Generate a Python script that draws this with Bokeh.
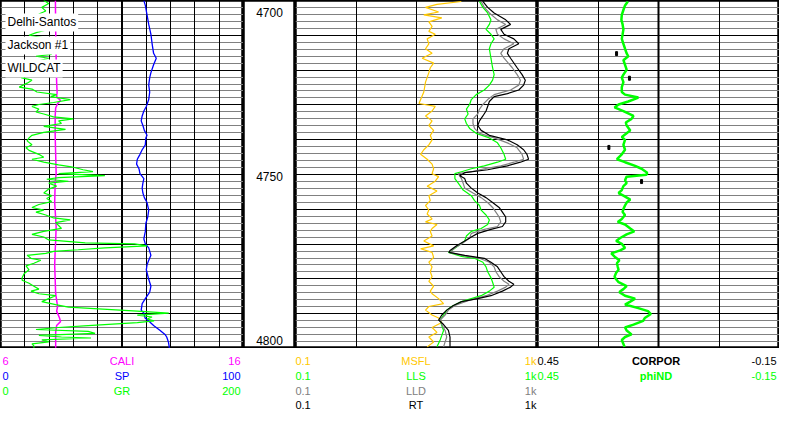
import numpy as np
from bokeh.plotting import figure
from bokeh.layouts import column, row
from bokeh.models import Range1d, Grid, FixedTicker, Label, Span
from bokeh.embed import file_html
from bokeh.resources import INLINE
from bokeh.core.properties import value

# ---------------- data (depth in ft) ----------------
gr_depth = [4696.2, 4697.1, 4698.3, 4699.4, 4700.3, 4701.5, 4702.7, 4703.8, 4705.0, 4705.9,
            4706.8, 4707.6, 4708.8, 4710.0, 4711.2, 4712.6, 4713.2, 4713.8, 4715.0, 4716.1,
            4717.3, 4718.2, 4719.1, 4719.7, 4720.5, 4721.4, 4722.6, 4723.2, 4724.1, 4724.9,
            4725.5, 4726.4, 4727.3, 4727.9, 4728.5, 4729.3, 4730.2, 4730.8, 4731.7, 4732.3,
            4732.9, 4733.7, 4734.6, 4735.5, 4736.4, 4737.3, 4738.1, 4739.0, 4740.2, 4741.1,
            4741.9, 4743.1, 4744.0, 4744.6, 4745.5, 4746.3, 4746.9, 4747.8, 4748.4, 4749.0,
            4749.6, 4750.2, 4750.7, 4751.3, 4751.9, 4752.8, 4753.7, 4754.9, 4755.7, 4756.6,
            4757.5, 4758.4, 4759.3, 4760.1, 4760.7, 4761.6, 4762.5, 4763.1, 4763.9, 4764.8,
            4765.7, 4766.6, 4767.5, 4768.3, 4769.2, 4770.1, 4770.4, 4771.0, 4771.6, 4772.2,
            4772.7, 4773.3, 4773.9, 4774.8, 4775.4, 4776.3, 4777.1, 4778.3, 4779.5, 4780.7,
            4781.5, 4782.4, 4783.3, 4784.2, 4784.8, 4785.6, 4786.2, 4787.1, 4788.0, 4788.9,
            4789.7, 4790.3, 4790.9, 4791.5, 4792.1, 4792.7, 4793.3, 4793.9, 4794.4, 4795.3,
            4795.9, 4796.5, 4797.1, 4797.7, 4798.3, 4798.8, 4799.1, 4799.7, 4800.3, 4800.9,
            4801.5, 4802.1]
gr = [35.6, 39.7, 34.0, 37.3, 31.6, 35.6, 30.0, 34.8, 39.7, 30.0,
      23.5, 35.6, 29.2, 38.1, 31.6, 42.1, 29.2, 39.7, 27.5, 33.2,
      23.5, 27.5, 23.5, 17.0, 25.9, 21.9, 15.4, 25.9, 30.0, 46.2,
      41.3, 57.5, 43.7, 31.6, 25.9, 31.6, 29.2, 35.6, 43.7, 59.9,
      47.8, 50.2, 35.6, 53.5, 35.6, 25.9, 23.5, 21.9, 25.9, 21.0,
      23.5, 31.6, 35.6, 25.9, 35.6, 47.8, 58.3, 68.0, 76.1, 47.8,
      85.9, 47.8, 38.1, 55.9, 39.7, 46.2, 39.7, 35.6, 42.1, 38.1,
      42.1, 31.6, 25.9, 35.6, 29.2, 37.3, 43.7, 57.5, 45.4, 47.8,
      50.2, 35.6, 25.9, 35.6, 39.7, 69.7, 110.2, 120.7, 85.9, 64.0,
      43.7, 37.3, 21.9, 25.1, 33.2, 27.5, 21.0, 23.5, 19.4, 17.8,
      17.8, 23.5, 27.5, 31.6, 25.1, 31.6, 45.4, 39.7, 34.0, 45.4,
      55.9, 84.2, 112.6, 138.5, 112.6, 124.7, 120.7, 126.4, 112.6, 72.1,
      47.8, 29.2, 72.1, 77.8, 31.6, 50.2, 74.5, 34.0, 39.7, 25.9,
      27.5, 27.5]

sp_depth = [4696.2, 4697.7, 4700.6, 4703.5, 4706.5, 4709.4, 4712.3, 4713.8, 4715.8, 4718.2,
            4719.7, 4722.0, 4724.1, 4726.4, 4728.5, 4729.9, 4731.4, 4732.9, 4734.3, 4735.8,
            4737.3, 4738.1, 4740.2, 4741.7, 4743.1, 4744.6, 4746.1, 4747.5, 4749.0, 4750.5,
            4751.9, 4753.4, 4754.9, 4756.3, 4757.8, 4760.1, 4762.2, 4764.2, 4766.6, 4768.9,
            4770.4, 4771.6, 4773.9, 4775.4, 4776.8, 4778.3, 4781.2, 4783.3, 4785.1, 4787.1,
            4788.6, 4790.6, 4791.5, 4793.0, 4793.9, 4795.3, 4796.8, 4798.0, 4798.8, 4800.3, 4802.1]
sp = [59.0, 59.6, 60.3, 61.0, 61.9, 62.4, 63.0, 64.1, 63.0, 61.9,
      61.4, 61.0, 61.4, 61.0, 60.0, 59.0, 58.3, 57.9, 58.6, 59.2,
      60.3, 59.8, 59.6, 58.3, 57.4, 56.3, 56.0, 57.0, 57.4, 59.0,
      58.6, 58.3, 58.6, 59.2, 60.3, 61.0, 60.6, 59.8, 59.6, 59.0,
      59.6, 61.0, 61.9, 61.0, 60.3, 60.0, 61.0, 61.9, 61.4, 59.6,
      58.3, 57.9, 59.0, 59.5, 61.0, 63.0, 65.7, 67.7, 68.4, 69.1, 69.5]

cali_depth = [4696.2, 4705.0, 4713.8, 4721.1, 4724.1, 4725.5, 4726.7, 4727.6, 4729.0, 4731.4,
              4737.3, 4743.1, 4749.0, 4751.9, 4757.8, 4765.1, 4769.5, 4772.4, 4776.8, 4781.2,
              4785.6, 4789.5, 4790.9, 4793.0, 4794.1, 4795.3, 4797.4, 4802.1]
cali = [8.26, 8.27, 8.29, 8.31, 8.33, 8.31, 8.47, 8.35, 8.27, 8.25,
        8.25, 8.27, 8.29, 8.25, 8.23, 8.29, 8.27, 8.25, 8.23, 8.25,
        8.27, 8.35, 8.31, 8.43, 8.47, 8.31, 8.27, 8.27]

msfl_depth = [4696.5, 4697.4, 4698.3, 4699.7, 4700.6, 4701.5, 4702.7, 4704.1, 4705.6, 4706.5,
              4707.9, 4709.4, 4710.9, 4712.3, 4713.8, 4715.3, 4716.7, 4718.2, 4721.1, 4724.1,
              4726.4, 4727.6, 4728.5, 4729.9, 4731.4, 4732.9, 4734.3, 4735.8, 4737.3, 4738.7,
              4740.2, 4741.7, 4743.1, 4744.6, 4746.1, 4747.5, 4749.0, 4749.9, 4751.3, 4752.8,
              4754.3, 4755.7, 4757.2, 4758.7, 4760.1, 4761.3, 4762.8, 4763.7, 4764.5, 4765.7,
              4766.6, 4768.0, 4769.5, 4771.0, 4771.9, 4773.0, 4774.5, 4776.0, 4777.4, 4778.9,
              4780.4, 4781.8, 4783.3, 4784.8, 4785.6, 4787.1, 4788.6, 4789.5, 4790.6, 4792.1,
              4793.0, 4794.4, 4795.9, 4797.4, 4798.8, 4800.3, 4801.8]
msfl = [55, 21.8, 14.1, 23.2, 13.2, 26.2, 16.0, 18.1, 16.0, 20.4,
        15.0, 16.0, 14.1, 18.1, 12.4, 19.2, 16.9, 16.0, 14.1, 13.2,
        11.7, 11.0, 20.4, 18.1, 14.1, 18.1, 16.0, 19.2, 16.9, 18.1,
        16.0, 13.2, 11.7, 15.0, 18.1, 19.2, 18.1, 23.2, 20.4, 15.0,
        21.8, 16.0, 16.9, 14.1, 16.0, 15.0, 18.1, 14.1, 21.8, 18.1,
        16.9, 18.1, 13.2, 19.2, 11.7, 18.1, 19.2, 16.0, 18.1, 16.9,
        18.1, 16.0, 19.2, 16.9, 18.1, 23.2, 28.0, 16.0, 14.1, 18.1,
        23.2, 26.2, 18.1, 21.8, 16.0, 19.2, 15.0]

lls_depth = [4696.5, 4698.3, 4700.0, 4702.1, 4703.5, 4705.0, 4706.5, 4707.9, 4709.4, 4710.9,
             4713.8, 4716.7, 4718.8, 4720.5, 4722.0, 4723.5, 4724.9, 4726.4, 4727.9, 4729.3,
             4730.8, 4732.3, 4733.7, 4735.2, 4736.7, 4738.1, 4739.6, 4741.1, 4743.1, 4744.6,
             4745.5, 4746.6, 4747.5, 4748.4, 4749.0, 4750.5, 4751.9, 4754.0, 4755.7, 4757.2,
             4758.7, 4760.1, 4761.6, 4763.1, 4764.5, 4765.7, 4766.6, 4768.0, 4769.5, 4771.0,
             4772.4, 4773.0, 4774.2, 4774.8, 4776.0, 4777.4, 4778.9, 4780.7, 4782.1, 4783.6,
             4784.8, 4786.2, 4787.1, 4788.0, 4789.5, 4790.6, 4792.1, 4793.6, 4795.3, 4796.8,
             4798.3, 4799.7, 4801.8]
lls = [110, 125, 150, 170, 160, 141, 170, 192, 170, 160,
       170, 181, 192, 181, 160, 132, 97, 80.5, 75.5, 66.8,
       71.2, 62.7, 66.8, 75.5, 97, 160, 218, 247, 280, 298,
       218, 132, 80.5, 55.4, 43.1, 43.1, 49, 59, 80.5, 91.1,
       110, 117, 141, 160, 150, 117, 80.5, 66.8, 62.7, 49,
       38.1, 33.7, 55.4, 91.1, 125, 141, 150, 170, 181, 192,
       160, 117, 80.5, 55.4, 38.1, 31.6, 28, 24.6, 26.2, 28,
       26.2, 24.6, 21.8]

lld_depth = [4696.5, 4698.3, 4700.0, 4702.1, 4703.5, 4705.0, 4706.5, 4707.9, 4709.4, 4710.9,
             4712.3, 4713.8, 4716.7, 4718.8, 4720.5, 4722.0, 4723.5, 4724.9, 4726.4, 4727.9,
             4729.3, 4730.8, 4732.3, 4733.7, 4735.2, 4736.7, 4738.1, 4739.6, 4741.1, 4743.1,
             4744.6, 4745.5, 4746.6, 4747.5, 4748.4, 4749.0, 4750.5, 4751.9, 4753.4, 4754.9,
             4756.3, 4757.8, 4759.3, 4760.7, 4762.2, 4763.7, 4765.1, 4766.0, 4767.2, 4768.6,
             4770.1, 4771.6, 4773.0, 4773.9, 4774.8, 4776.0, 4777.4, 4778.9, 4780.4, 4781.8,
             4782.7, 4783.6, 4784.8, 4786.2, 4787.7, 4789.2, 4790.6, 4792.1, 4793.6, 4795.0,
             4796.8, 4798.8, 4800.3, 4801.8]
lld = [117, 132, 160, 218, 298, 205, 218, 280, 406, 280,
       247, 280, 383, 461, 522, 490, 359, 192, 150, 125,
       110, 103, 85.8, 85.8, 91.1, 110, 192, 318, 461, 556,
       590, 406, 247, 132, 80.5, 49, 55.4, 59, 62.7, 85.8,
       117, 150, 181, 205, 232, 247, 218, 132, 80.5, 75.5,
       59, 43.1, 35.8, 55.4, 110, 160, 192, 205, 232, 280,
       337, 298, 218, 141, 71.2, 43.1, 33.7, 29.7, 24.6, 26.2,
       29.7, 31.6, 29.7, 28]

rt_depth = [4696.5, 4698.3, 4700.0, 4702.1, 4703.5, 4705.0, 4706.5, 4707.9, 4709.4, 4710.9,
            4712.3, 4713.8, 4716.7, 4718.8, 4720.5, 4722.0, 4723.5, 4724.6, 4725.5, 4727.0,
            4728.5, 4729.9, 4731.4, 4732.9, 4734.3, 4735.8, 4737.3, 4738.7, 4740.2, 4741.7,
            4743.1, 4744.6, 4745.5, 4746.6, 4747.8, 4748.7, 4749.6, 4750.5, 4751.9, 4753.4,
            4754.9, 4756.3, 4757.8, 4759.3, 4760.7, 4762.2, 4763.7, 4765.1, 4766.0, 4767.2,
            4768.3, 4769.5, 4771.0, 4772.4, 4773.0, 4773.9, 4774.8, 4776.0, 4777.4, 4778.9,
            4780.4, 4781.8, 4782.7, 4783.6, 4784.8, 4786.2, 4787.1, 4788.0, 4789.2, 4790.6,
            4792.1, 4793.6, 4795.0, 4796.8, 4798.8, 4800.3, 4801.8]
rt = [125, 150, 192, 298, 359, 247, 280, 406, 490, 337,
      318, 359, 461, 556, 629, 590, 490, 318, 192, 160,
      150, 141, 125, 110, 103, 117, 160, 318, 461, 590,
      670, 712, 522, 318, 150, 62.7, 52, 62.7, 66.8, 80.5,
      103, 141, 181, 232, 263, 298, 298, 263, 170, 103,
      80.5, 62.7, 45.9, 35.8, 34.4, 62.7, 132, 170, 218, 247,
      280, 337, 406, 359, 263, 170, 103, 55.4, 40.6, 31.6,
      26.2, 23.2, 28, 33.7, 35.8, 35.8, 35.8]

phind_depth = [4696.5, 4697.7, 4699.1, 4700.6, 4702.1, 4703.5, 4705.0, 4706.5, 4707.9, 4709.4,
               4710.9, 4712.3, 4713.2, 4714.4, 4715.8, 4717.3, 4718.8, 4719.7, 4721.1, 4722.6,
               4724.1, 4724.9, 4725.8, 4727.0, 4727.9, 4728.8, 4729.9, 4731.4, 4732.3, 4733.4,
               4734.3, 4735.8, 4736.7, 4737.8, 4738.7, 4740.2, 4741.7, 4743.1, 4744.6, 4745.5,
               4746.6, 4747.5, 4748.7, 4749.3, 4749.9, 4751.0, 4751.9, 4752.8, 4754.0, 4754.9,
               4755.7, 4756.9, 4757.8, 4758.7, 4759.8, 4760.7, 4761.6, 4762.8, 4763.7, 4764.5,
               4765.7, 4766.6, 4767.5, 4768.6, 4769.5, 4770.4, 4771.6, 4772.4, 4773.3, 4774.5,
               4775.4, 4776.3, 4777.4, 4778.3, 4779.2, 4780.4, 4781.2, 4782.1, 4783.3, 4784.2,
               4785.1, 4786.2, 4787.1, 4788.0, 4788.9, 4790.0, 4790.9, 4791.8, 4793.0, 4793.9,
               4795.0, 4795.9, 4796.8, 4798.0, 4798.8, 4799.7, 4800.9, 4801.8]
phind = [0.226, 0.233, 0.237, 0.241, 0.242, 0.239, 0.237, 0.239, 0.241, 0.237,
         0.233, 0.229, 0.225, 0.237, 0.233, 0.229, 0.237, 0.241, 0.237, 0.241,
         0.241, 0.233, 0.200, 0.225, 0.249, 0.259, 0.237, 0.212, 0.217, 0.231,
         0.229, 0.220, 0.229, 0.241, 0.233, 0.237, 0.233, 0.241, 0.253, 0.233,
         0.208, 0.192, 0.178, 0.180, 0.229, 0.233, 0.229, 0.237, 0.241, 0.249,
         0.237, 0.220, 0.229, 0.233, 0.237, 0.239, 0.233, 0.241, 0.251, 0.233,
         0.220, 0.210, 0.229, 0.245, 0.255, 0.241, 0.233, 0.245, 0.267, 0.257,
         0.247, 0.253, 0.251, 0.249, 0.255, 0.259, 0.255, 0.249, 0.229, 0.237,
         0.247, 0.233, 0.208, 0.220, 0.233, 0.200, 0.176, 0.169, 0.184, 0.188,
         0.212, 0.233, 0.229, 0.217, 0.233, 0.241, 0.237, 0.234]

corpor_depth = [4712.4, 4719.9, 4741.0, 4751.4]
corpor = [0.254, 0.222, 0.273, 0.192]

depth_ticks = [4700, 4750, 4800]
depth_tick_labels = ["4700", "4750", "4800"]
well_labels = ["Delhi-Santos", "Jackson #1", "WILDCAT"]
well_label_depths = [4702.9, 4709.9, 4716.9]

track1_header = [("6", "CALI", "16", "#ff00ff"),
                 ("0", "SP", "100", "#0000ff"),
                 ("0", "GR", "200", "#00ff00")]
track2_header = [("0.1", "MSFL", "1k", "#ffc800"),
                 ("0.1", "LLS", "1k", "#00ff00"),
                 ("0.1", "LLD", "1k", "#808080"),
                 ("0.1", "RT", "1k", "#000000")]
track3_header = [("0.45", "CORPOR", "-0.15", "#000000"),
                 ("0.45", "phiND", "-0.15", "#00ff00")]

# ---------------- layout ----------------
TOP, BOT = 4696.2, 4802.3
H, HH = 348, 63
W1, WD, W2, W3 = 243, 52, 242, 242
FONT = "Liberation Sans"

major = [float(v) for v in np.linspace(TOP, BOT, 11)]
minor = [float(v) for v in np.linspace(TOP, BOT, 51)]


def make_track(width, x_range, x_axis_type="linear", grid=True):
    p = figure(width=width, height=H, x_range=x_range, y_range=Range1d(BOT, TOP),
               x_axis_type=x_axis_type, x_axis_location=None, y_axis_location=None,
               toolbar_location=None, output_backend="svg", min_border=0,
               background_fill_color="white", border_fill_color="white")
    p.xgrid.visible = False
    p.ygrid.visible = False
    p.outline_line_color = "black"
    p.outline_line_width = 2.5
    if grid:
        p.add_layout(Grid(dimension=1, ticker=FixedTicker(ticks=major, minor_ticks=minor),
                          grid_line_color="black", grid_line_width=1,
                          minor_grid_line_color="#808080", minor_grid_line_width=1))
    return p


# Track 1 : GR / SP / CALI
p1 = make_track(W1, Range1d(0, 200))
p1.extra_x_ranges = {"sp": Range1d(0, 100), "cali": Range1d(6, 16)}
p1.add_layout(Grid(dimension=0, ticker=FixedTicker(ticks=[20, 40, 60, 80, 120, 140, 160, 180]),
                   grid_line_color="black", grid_line_width=1))
p1.add_layout(Span(location=100, dimension="height", line_color="black", line_width=2, level="underlay"))
p1.line(cali, cali_depth, x_range_name="cali", line_color="#ff00ff", line_width=1.5)
p1.line(sp, sp_depth, x_range_name="sp", line_color="#0000ff", line_width=1.3)
p1.line(gr, gr_depth, line_color="#00ff00", line_width=1.2)
for txt, d in zip(well_labels, well_label_depths):
    p1.add_layout(Label(x=5, y=d, x_units="screen", text=txt, text_font=FONT,
                        text_font_size="12px", text_baseline="middle", text_color="black",
                        background_fill_color="white", padding=2))

# Depth track
pdp = make_track(WD, Range1d(0, 1), grid=False)
pdp.text(x=[0.5] * len(depth_ticks), y=depth_ticks, text=depth_tick_labels,
         text_font=value(FONT), text_font_size="12px", text_align="center",
         text_baseline="middle", text_color="black")

# Track 2 : resistivity (log)
p2 = make_track(W2, Range1d(0.1, 1000), x_axis_type="log")
p2.add_layout(Grid(dimension=0, ticker=FixedTicker(ticks=[1, 10, 100]),
                   grid_line_color="black", grid_line_width=1))
p2.line(msfl, msfl_depth, line_color="#ffc800", line_width=1.2)
p2.line(lls, lls_depth, line_color="#00ff00", line_width=1.2)
p2.line(lld, lld_depth, line_color="#808080", line_width=1.2)
p2.line(rt, rt_depth, line_color="black", line_width=1.2)

# Track 3 : porosity
p3 = make_track(W3, Range1d(0.45, -0.15))
p3.add_layout(Grid(dimension=0, ticker=FixedTicker(ticks=[0.3, 0.0]),
                   grid_line_color="black", grid_line_width=1))
p3.add_layout(Span(location=0.15, dimension="height", line_color="black", line_width=2, level="underlay"))
p3.line(phind, phind_depth, line_color="#00ff00", line_width=2.5)
p3.rect(corpor, corpor_depth, width=2, height=4, width_units="screen", height_units="screen",
        fill_color="black", line_color="black")

# Header (y measured in pixels from the top of the header strip)
ph = figure(width=W1 + WD + W2 + W3, height=HH, x_range=Range1d(0, 795), y_range=Range1d(HH, 0),
            x_axis_location=None, y_axis_location=None, toolbar_location=None,
            output_backend="svg", min_border=0, background_fill_color="white",
            border_fill_color="white")
ph.xgrid.visible = False
ph.ygrid.visible = False
ph.outline_line_color = None

row_y = [12, 27, 42, 56.5]


def header(rows, xl, xc, xr, bold_center=False):
    for i, (lo, name, hi, col) in enumerate(rows):
        y = row_y[i]
        ph.add_layout(Label(x=xl, y=y, text=lo, text_color=col,
                            text_font=FONT, text_font_size="11px", text_baseline="middle", text_align="left"))
        ph.add_layout(Label(x=xc, y=y, text=name, text_color=col, text_font=FONT,
                            text_font_size="11px", text_baseline="middle", text_align="center",
                            text_font_style="bold" if bold_center else "normal"))
        ph.add_layout(Label(x=xr, y=y, text=hi, text_color=col, text_font=FONT,
                            text_font_size="11px", text_baseline="middle", text_align="right"))


header(track1_header, 2, 124, 245)
header(track2_header, 301, 424, 547)
header(track3_header, 548, 669, 792, bold_center=True)

layout = column(row(p1, pdp, p2, p3), ph)

open("out.html", "w").write(file_html(layout, INLINE))
